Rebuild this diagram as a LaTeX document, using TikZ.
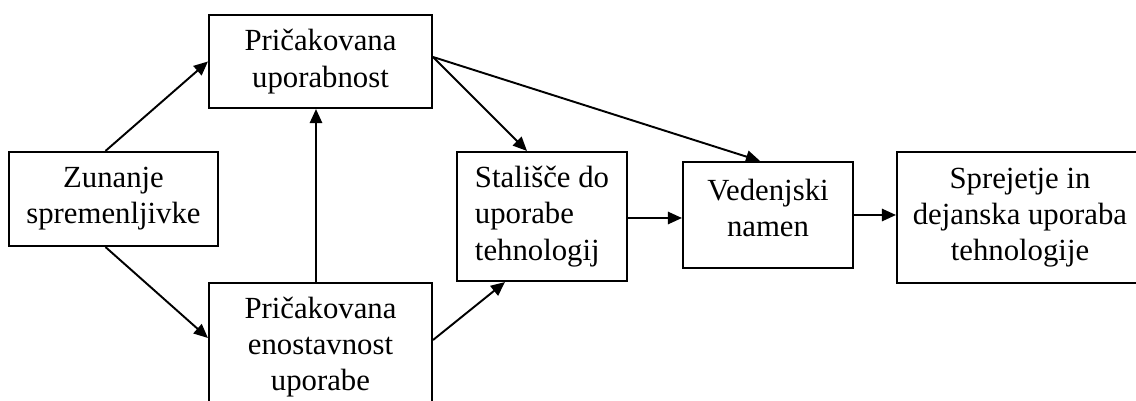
\documentclass[tikz,border=0pt]{standalone}
\usepackage{fontspec}
\setmainfont{Liberation Serif}
\usetikzlibrary{arrows.meta,calc}

\begin{document}
\begin{tikzpicture}[x=0.02cm, y=-0.02cm,
    box/.style={draw, line width=1.2pt, align=center, inner sep=0pt,
        font=\fontsize{17.5}{20.6}\selectfont},
    arr/.style={-{Triangle[length=8pt, width=7pt]}, line width=1.1pt}]
    \useasboundingbox (0,0) rectangle (1136,401);
    \clip (0,0) rectangle (1136,401);
    % boxes
    \node[box, minimum width=4.18cm, minimum height=1.88cm] (ext) at (113.5,199) {Zunanje\\spremenljivke};
    \node[box, minimum width=4.46cm, minimum height=1.86cm] (useful) at (320.5,61.5) {Pričakovana\\uporabnost};
    \node[box, minimum width=4.46cm, minimum height=2.56cm] (ease) at (320.5,347) {Pričakovana\\enostavnost\\uporabe};
    \node[box, align=left, minimum width=3.4cm, minimum height=2.58cm] (attitude) at (542,216.5) {Stališče do\\uporabe\\tehnologij};
    \node[box, text depth=8pt, minimum width=3.4cm, minimum height=2.12cm] (intent) at (768,215) {Vedenjski\\namen};
    \node[box, minimum width=4.92cm, minimum height=2.62cm] (adoption) at (1020,217.5) {Sprejetje in\\dejanska uporaba\\tehnologije};
    % arrows
    \draw[arr] ($(ext.north)+(-8,0)$) -- (useful.west);
    \draw[arr] ($(ext.south)+(-8,0)$) -- ($(ease.west)+(0,-9)$);
    \draw[arr] ($(ease.north)+(-4.5,0)$) -- ($(useful.south)+(-4.5,0)$);
    \draw[arr] ($(useful.east)+(0,-4.5)$) -- ($(attitude.north)+(-15,0)$);
    \draw[arr] ($(useful.east)+(0,-4.5)$) -- ($(intent.north)+(-8,0)$);
    \draw[arr] ($(ease.east)+(0,-7)$) -- ($(attitude.south)+(-37,0)$);
    \draw[arr] ($(attitude.east)+(0,1.5)$) coordinate (a) -- (a -| intent.west);
    \draw[arr] (intent.east) -- (intent.east -| adoption.west);
\end{tikzpicture}
\end{document}
